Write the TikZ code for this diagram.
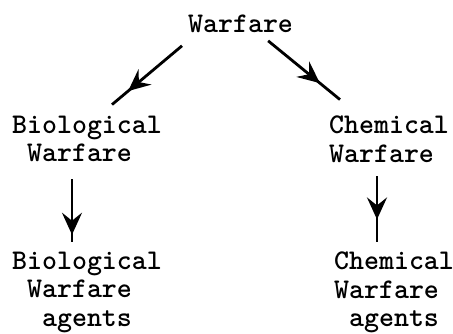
\documentclass[tikz,border=0pt]{standalone}
\usepackage{tikz}
\usetikzlibrary{positioning, arrows.meta, calc, decorations.markings}
\tikzstyle{typed} = [anchor=north west, align=left, inner sep=0pt, font=\ttfamily\bfseries\fontsize{28.5}{28.5}\selectfont]
\tikzstyle{line} = [draw, line width=2.8pt, postaction={decorate}]
\tikzset{tipat/.style={decoration={markings, mark=at position #1 with {\arrow{Stealth[length=22pt,width=20pt,inset=8pt]}}}}}

\begin{document}
\begin{tikzpicture}[x=1pt, y=-1pt]
        \useasboundingbox (0,0) rectangle (453,334);
        % Nodes
        \node (war) [typed] at (188,14.6) {Warfare};
        \node (bio) [typed] at (12,115.6) {Biological\\\hphantom{x}Warfare};
        \node (chem) [typed] at (329,115.6) {Chemical\\Warfare};
        \node (bioag) [typed] at (12,251.6) {Biological\\\hphantom{x}Warfare\\\hphantom{xx}agents};
        \node (chemag) [typed] at (334,251.6) {Chemical\\Warfare\\\hphantom{x}agents};

        % Edges
        \path [line, tipat=0.77] ($(war.south west)+(-6,13)$) -- ($(bio.north west)+(100,-11)$);
        \path [line, tipat=0.72] ($(war.south east)+(-25,8)$) -- ($(chem.north west)+(11,-16)$);
        \path [line, tipat=0.89] ($(bio.south west)+(60,17)$) -- ($(bioag.north west)+(60,-10)$);
        \path [line, tipat=0.66] ($(chem.south west)+(48,14)$) -- ($(chemag.north west)+(43,-10)$);

\end{tikzpicture}
\end{document}
